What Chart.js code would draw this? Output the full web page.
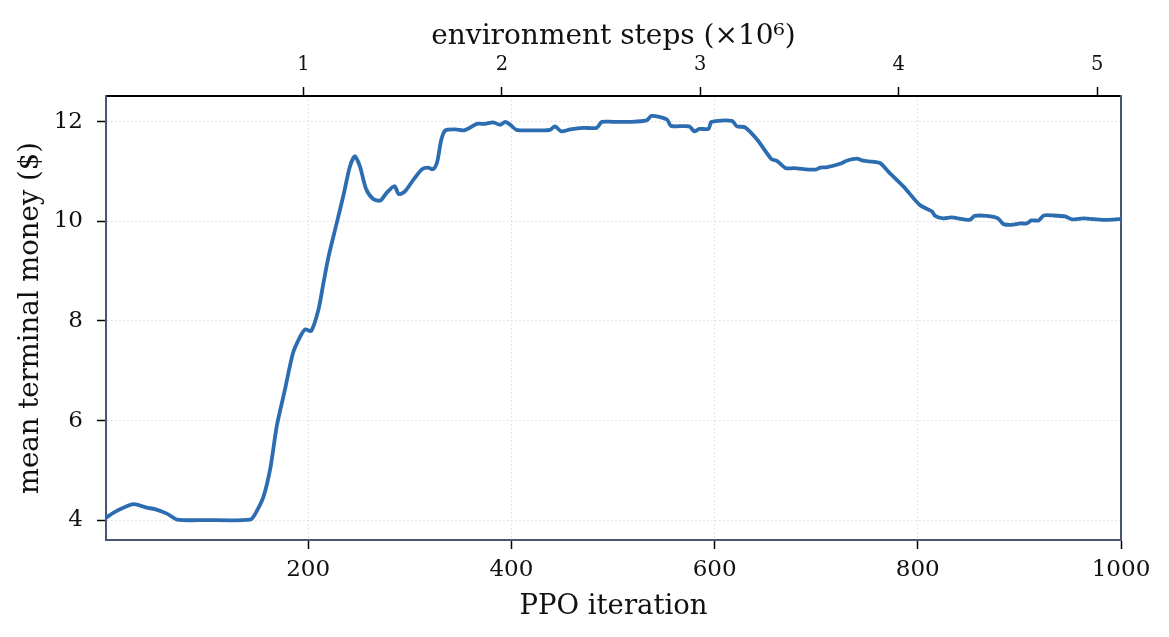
<!DOCTYPE html>
<html>
<head>
<meta charset="utf-8">
<script src="https://cdn.jsdelivr.net/npm/chart.js@4/dist/chart.umd.min.js"></script>
<style>
  html,body{margin:0;padding:0;background:#fff;}
  #wrap{width:1169px;height:637px;position:relative;}
</style>
</head>
<body>
<div id="wrap"><canvas id="c"></canvas></div>
<script>
'use strict';
/* PPO training curve: mean terminal money vs iteration */
const iterations = [1,12,28,41,49,61,71,100,143,148,156,163,169,177,185,192,197,203,210,215,220,228,235,241,246,251,257,264,271,277,285,289,295,304,312,318,323,327,331,335,345,353,358,366,374,382,389,394,399,405,418,431,438,443,449,458,471,484,489,500,517,533,538,553,557,575,580,585,594,597,617,622,630,642,656,661,670,678,699,704,711,725,730,740,746,755,763,771,786,802,814,817,825,833,851,856,868,879,884,892,901,907,912,919,924,933,945,952,963,983,1000];
const meanMoney = [4.05,4.19,4.32,4.25,4.22,4.13,4.01,4.00,4.01,4.13,4.47,5.07,5.88,6.61,7.35,7.68,7.83,7.80,8.22,8.76,9.29,9.96,10.55,11.10,11.31,11.10,10.65,10.45,10.42,10.57,10.71,10.55,10.60,10.85,11.05,11.08,11.05,11.20,11.64,11.83,11.85,11.83,11.87,11.96,11.96,11.99,11.94,12.00,11.94,11.84,11.83,11.83,11.84,11.91,11.81,11.85,11.88,11.88,12.00,12.00,12.00,12.03,12.12,12.05,11.92,11.91,11.81,11.86,11.86,12.00,12.02,11.91,11.89,11.64,11.25,11.22,11.07,11.07,11.04,11.08,11.09,11.17,11.22,11.26,11.22,11.20,11.17,11.00,10.70,10.33,10.20,10.11,10.06,10.08,10.03,10.11,10.11,10.06,9.95,9.93,9.96,9.96,10.02,10.02,10.12,10.12,10.10,10.04,10.06,10.03,10.05];
const xTicks = [200,400,600,800,1000];
const yTicks = [4,6,8,10,12];
const stepTicks = [1,2,3,4,5];          // environment steps, millions
const STEPS_PER_ITER = 5120;

const SERIF = "'DejaVu Serif', serif";
const SPINE = '#4a5570', LINE = '#2c6cb0', GRID = '#dcdcdc';

const setTicks = vals => s => { s.ticks = vals.map(v => ({value:v})); };
const plain = v => String(v);

const pts = iterations.map((x,i) => ({x, y:meanMoney[i]}));

new Chart(document.getElementById('c'), {
  type:'line',
  data:{datasets:[{data:pts, borderColor:LINE, borderWidth:3.8, pointRadius:0, tension:0.25, fill:false, borderCapStyle:'round', borderJoinStyle:'round'}]},
  options:{
    responsive:true, maintainAspectRatio:false, animation:false,
    layout:{padding:{left:0,right:48,top:0,bottom:0}},
    plugins:{legend:{display:false}, tooltip:{enabled:false}},
    scales:{
      x:{type:'linear', position:'bottom', min:1, max:1000,
        afterBuildTicks:setTicks(xTicks),
        afterFit:s=>{s.height=97;},
        grid:{color:GRID, tickColor:'#000', tickLength:9, tickWidth:1.5},
        border:{color:SPINE, width:2, dash:[1.5,2.5]},
        ticks:{color:'#111', font:{family:SERIF,size:23}, padding:7, maxRotation:0, callback:plain},
        title:{display:true, text:'PPO iteration', color:'#111', font:{family:SERIF,size:27.5}, padding:{top:0,bottom:14}}},
      x2:{type:'linear', position:'top', min:STEPS_PER_ITER*1/1e6, max:STEPS_PER_ITER*1000/1e6,
        afterBuildTicks:setTicks(stepTicks),
        afterFit:s=>{s.height=96;},
        grid:{drawOnChartArea:false, tickColor:'#000', tickLength:9, tickWidth:1.5},
        border:{color:'#000', width:2},
        ticks:{color:'#111', font:{family:SERIF,size:19.5}, padding:10, callback:plain},
        title:{display:true, text:'environment steps (\u00d710\u2076)', color:'#111', font:{family:SERIF,size:28}, padding:{top:20,bottom:0}}},
      y:{type:'linear', position:'left', min:3.6, max:12.52,
        afterBuildTicks:setTicks(yTicks),
        afterFit:s=>{s.width=106;},
        grid:{color:GRID, tickColor:'#000', tickLength:9, tickWidth:1.5},
        border:{color:SPINE, width:2, dash:[1.5,2.5]},
        ticks:{color:'#111', font:{family:SERIF,size:23}, padding:14, callback:plain},
        title:{display:true, text:'mean terminal money ($)', color:'#111', font:{family:SERIF,size:27.5}, padding:{top:14,bottom:0}}},
      y2:{type:'linear', position:'right', min:3.6, max:12.52,
        afterFit:s=>{s.width=0;},
        grid:{display:false}, ticks:{display:false},
        border:{color:SPINE, width:2}}
    }
  }
});
</script>
</body>
</html>
